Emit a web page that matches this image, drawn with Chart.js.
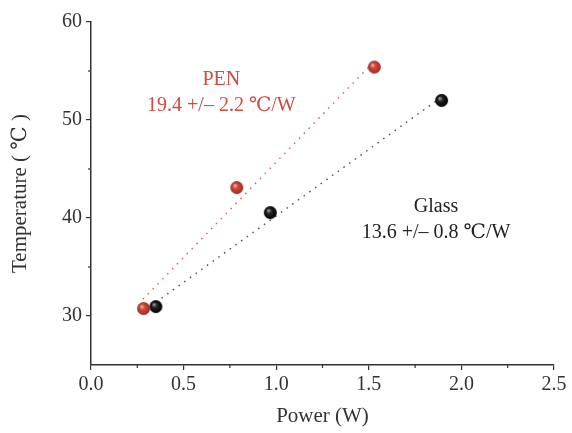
<!DOCTYPE html>
<html><head><meta charset="utf-8">
<script src="https://cdn.jsdelivr.net/npm/chart.js@4/dist/chart.umd.min.js"></script>
<style>html,body{margin:0;padding:0;background:#fff}#wrap{width:572px;height:433px}</style>
</head><body><div id="wrap"><canvas id="c" width="572" height="433"></canvas></div>
<script>
// Data
const penPower = [0.284, 0.787, 1.53];
const penTemp = [30.76, 43.1, 55.4];
const glassPower = [0.35, 0.968, 1.893];
const glassTemp = [30.96, 40.55, 52.0];
const penFitX = [0.28, 1.54];
const penFitY = [31.7, 56.2];
const glassFitX = [0.35, 1.89];
const glassFitY = [31.4, 52.3];
const xTicks = [0.0, 0.5, 1.0, 1.5, 2.0, 2.5];
const xMinor = [0.25, 0.75, 1.25, 1.75, 2.25];
const yTicks = [30, 40, 50, 60];
const yMinor = [35, 45, 55];
const penLabel = ['PEN', '19.4 +/\u2013 2.2 \u2103/W'];
const glassLabel = ['Glass', '13.6 +/\u2013 0.8 \u2103/W'];
const xTitle = 'Power (W)';
const yTitle = 'Temperature ( \u2103 )';

const RED = '#cf4a42', BLACK = '#1c1c1c', AX = '#333333';
const FONT = "'Liberation Serif', 'DejaVu Serif', serif";

function sphere(base, hi, dark) {
  const r = 6.5, s = 15;
  const cv = document.createElement('canvas'); cv.width = s; cv.height = s;
  const g = cv.getContext('2d');
  const gr = g.createRadialGradient(s/2 - 2, s/2 - 2.2, 0.5, s/2, s/2, r);
  gr.addColorStop(0, hi); gr.addColorStop(0.35, base); gr.addColorStop(1, dark);
  g.fillStyle = gr; g.beginPath(); g.arc(s/2, s/2, r, 0, Math.PI*2); g.fill();
  return cv;
}
const redBall = sphere('#d6463a', '#f3b0a6', '#9c2a22');
const blackBall = sphere('#222', '#9a9a9a', '#000');

const pts = (xs, ys) => xs.map((x, i) => ({x, y: ys[i]}));

const extras = {
  id: 'extras',
  afterDraw(chart) {
    const ctx = chart.ctx, xs = chart.scales.x, ys = chart.scales.y;
    ctx.save();
    ctx.strokeStyle = AX; ctx.lineWidth = 1.2;
    xMinor.forEach(v => { const p = xs.getPixelForValue(v); ctx.beginPath(); ctx.moveTo(p, xs.top); ctx.lineTo(p, xs.top + 3); ctx.stroke(); });
    yMinor.forEach(v => { const p = ys.getPixelForValue(v); ctx.beginPath(); ctx.moveTo(ys.right, p); ctx.lineTo(ys.right - 3, p); ctx.stroke(); });
    ctx.font = '20px ' + FONT; ctx.textAlign = 'center'; ctx.textBaseline = 'middle';
    ctx.fillStyle = RED;
    ctx.fillText(penLabel[0], xs.getPixelForValue(0.704), ys.getPixelForValue(54.1));
    ctx.fillText(penLabel[1], xs.getPixelForValue(0.704), ys.getPixelForValue(51.43));
    ctx.fillStyle = '#222';
    ctx.fillText(glassLabel[0], xs.getPixelForValue(1.863), ys.getPixelForValue(41.1));
    ctx.fillText(glassLabel[1], xs.getPixelForValue(1.863), ys.getPixelForValue(38.53));
    ctx.restore();
  }
};

new Chart(document.getElementById('c'), {
  type: 'scatter',
  data: {
    datasets: [
      { data: pts(penFitX, penFitY), showLine: true, borderColor: 'rgba(207,74,66,0.85)', borderWidth: 1.5, borderDash: [1.5, 5.5], pointRadius: 0, order: 3 },
      { data: pts(glassFitX, glassFitY), showLine: true, borderColor: 'rgba(40,40,40,0.8)', borderWidth: 1.5, borderDash: [1.5, 5.5], pointRadius: 0, order: 3 },
      { data: pts(penPower, penTemp), pointStyle: redBall, pointRadius: 7, order: 1 },
      { data: pts(glassPower, glassTemp), pointStyle: blackBall, pointRadius: 7, order: 1 }
    ]
  },
  options: {
    responsive: false, animation: false, events: [],
    layout: { padding: { top: 22, right: 18, left: 0, bottom: 0 } },
    plugins: { legend: { display: false }, tooltip: { enabled: false } },
    scales: {
      x: {
        type: 'linear', min: 0, max: 2.5,
        afterBuildTicks: s => { s.ticks = xTicks.map(v => ({value: v})); },
        afterFit: s => { s.height = 68; },
        border: { color: AX, width: 1.5 },
        grid: { drawOnChartArea: false, drawTicks: true, tickLength: 5, color: AX, lineWidth: 1.2 },
        ticks: { color: '#333', font: { family: FONT, size: 20 }, padding: 3, maxRotation: 0, callback: v => Number(v).toFixed(1) },
        title: { display: true, text: xTitle, color: '#333', font: { family: FONT, size: 21 }, padding: { top: 14 } }
      },
      y: {
        type: 'linear', min: 25, max: 60,
        afterBuildTicks: s => { s.ticks = yTicks.map(v => ({value: v})); },
        afterFit: s => { s.width = 91; },
        border: { color: AX, width: 1.5 },
        grid: { drawOnChartArea: false, drawTicks: true, tickLength: 5, color: AX, lineWidth: 1.2 },
        ticks: { color: '#333', font: { family: FONT, size: 20 }, padding: 4, callback: v => String(v) },
        title: { display: true, text: yTitle, color: '#333', font: { family: FONT, size: 21 }, padding: { top: 8, bottom: 8 } }
      }
    }
  },
  plugins: [extras]
});
</script>
</body></html>
